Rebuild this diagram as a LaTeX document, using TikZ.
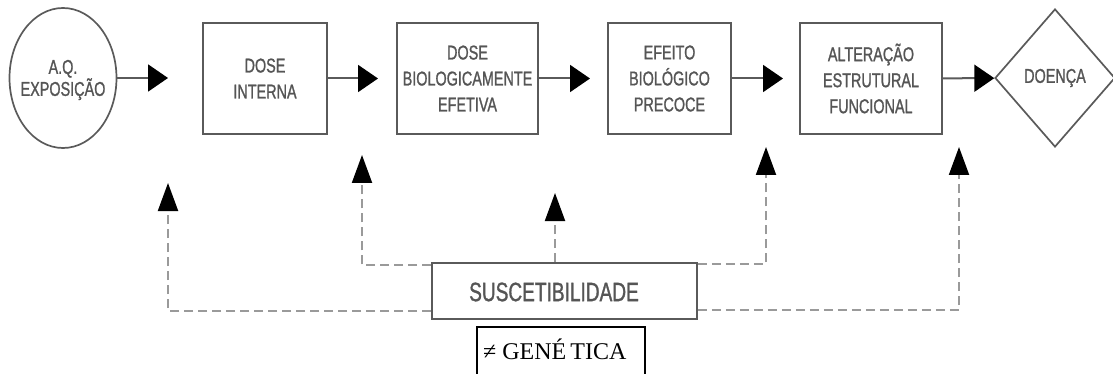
\documentclass[tikz,border=0pt]{standalone}
\usepackage{fontspec}
\setmainfont{Liberation Serif}
\newfontfamily\diagsans[FakeStretch=0.72,FakeBold=1.1]{Liberation Sans}
\usetikzlibrary{arrows.meta,shapes.geometric,calc}
\definecolor{linegray}{HTML}{5A5A5A}
\definecolor{dashgray}{HTML}{9A9A9A}
\definecolor{textgray}{HTML}{555555}

\begin{document}
\begin{tikzpicture}[x=1pt,y=-1pt,
  outline/.style={draw=linegray, line width=1.7pt, inner sep=0pt},
  caption/.style={align=center, text=textgray, inner sep=0pt,
    font=\diagsans\fontsize{20}{26}\selectfont},
  stage/.style={outline, caption, rectangle, minimum height=111pt},
  flow/.style={draw=linegray, line width=2pt,
    -{Triangle[length=20pt,width=27pt,color=black]}},
  feed/.style={draw=dashgray, line width=2pt, dash pattern=on 9pt off 5pt,
    -{Triangle[length=28pt,width=20pt,color=black]}}
  ]
\useasboundingbox (0,0) rectangle (1113,374);
\clip (0,0) rectangle (1113,374);

% main chain
\node[outline, ellipse, minimum width=107pt, minimum height=140pt] (aq) at (63,78) {};
\node[caption, font=\diagsans\fontsize{20}{22}\selectfont] (aqtext) at (63,80) {A.Q.\\EXPOSIÇÃO};
\node[stage, minimum width=124pt] (dose) at (265,78.5) {DOSE\\INTERNA};
\node[stage, minimum width=141pt] (bio) at (467.5,78.5) {DOSE\\BIOLOGICAMENTE\\EFETIVA};
\node[stage, minimum width=123pt] (efeito) at (669.5,78.5) {EFEITO\\BIOLÓGICO\\PRECOCE};
\node[stage, minimum width=142pt] (alter) at (871,78.5) {ALTERAÇÃO\\ESTRUTURAL\\FUNCIONAL};
\node[outline, caption, diamond, minimum width=120pt, minimum height=138pt] (doenca) at (1055,78) {DOENÇA};

\coordinate (h1) at (168,78);
\coordinate (h2) at (378,78.5);
\coordinate (h3) at (590,78.5);
\coordinate (h4) at (783,78.5);
\draw[flow] (aq) -- (h1);
\draw[flow] (dose) -- (h2);
\draw[flow] (bio) -- (h3);
\draw[flow] (efeito) -- (h4);
\draw[flow] (alter) -- (doenca);

% susceptibility and its feedback arrows
\node[outline, rectangle, minimum width=265pt, minimum height=56pt] (susc) at (564.5,291) {};
\node[caption, font=\diagsans\fontsize{26.5}{30}\selectfont] (susctext) at (554,292) {SUSCETIBILIDADE};

\coordinate (v1) at (168,183);
\coordinate (v2) at (362,155);
\coordinate (v3) at (555,193);
\coordinate (v4) at (766,147);
\coordinate (v5) at (959,147);
\draw[feed] ([yshift=9pt]susc.south west) -| (v1);
\draw[feed] ([yshift=-3pt]susc.north west) -| (v2);
\draw[feed] (susc.north -| v3) -- (v3);
\draw[feed] ([yshift=-2pt]susc.north east) -| (v4);
\draw[feed] ([yshift=10pt]susc.south east) -| (v5);

% genetics note
\node[draw=black, line width=1.3pt, minimum width=168pt, minimum height=52pt, inner sep=0pt] (gen) at (561,353) {};
\node[anchor=west, inner sep=0pt, font=\fontsize{24}{28}\selectfont] (gentext) at (483,349.5) {≠ GENÉ\hspace{4pt}TICA};
\end{tikzpicture}
\end{document}
